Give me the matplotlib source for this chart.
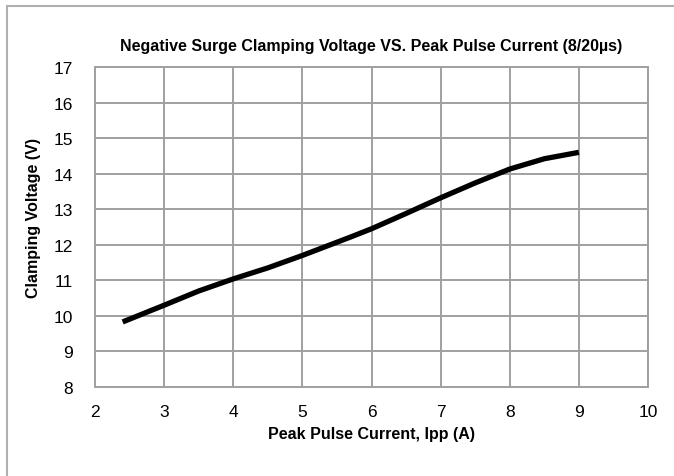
import matplotlib
matplotlib.use("Agg")
import matplotlib.pyplot as plt
from matplotlib.patches import Rectangle

# curve
ipp = [2.4, 3.0, 3.5, 4.0, 4.5, 5.0, 5.7, 6.0, 6.5, 7.0, 7.5, 8.0, 8.5, 9.0]
vc = [9.83, 10.30, 10.70, 11.04, 11.35, 11.70, 12.22, 12.45, 12.88, 13.32, 13.74, 14.13, 14.42, 14.60]

x_ticks = [2, 3, 4, 5, 6, 7, 8, 9, 10]
y_ticks = [8, 9, 10, 11, 12, 13, 14, 15, 16, 17]

title = "Negative Surge Clamping Voltage VS. Peak Pulse Current (8/20µs)"
xlabel = "Peak Pulse Current, Ipp (A)"
ylabel = "Clamping Voltage (V)"

bold_font = ["Liberation Sans", "DejaVu Sans"]
tick_font = ["Liberation Sans", "DejaVu Sans"]

fig = plt.figure(figsize=(6.74, 4.77), dpi=100)
ax = fig.add_axes([95 / 674, 1 - 388 / 477, 553 / 674, 320 / 477])

# outer chart border
fig.patches.append(Rectangle((7 / 674, -0.1), 1.2, 1 - 7 / 477 + 0.1,
                             transform=fig.transFigure, fill=False,
                             edgecolor="#b0b0b0", linewidth=1.5))

ax.plot(ipp, vc, color="black", linewidth=3.8, solid_capstyle="butt", zorder=3)

ax.set_xlim(2, 10)
ax.set_ylim(8, 17)
ax.set_xticks(x_ticks)
ax.set_yticks(y_ticks)
ax.grid(True, color="#a0a0a0", linewidth=1.4)
for s in ax.spines.values():
    s.set_color("#a0a0a0")
    s.set_linewidth(1.4)
ax.tick_params(length=0, pad=12, labelsize=12.5)
for lab in ax.get_xticklabels() + ax.get_yticklabels():
    lab.set_family(tick_font)
ax.tick_params(axis="y", pad=16)

ax.set_title(title, fontsize=11.5, fontweight="bold", family=bold_font, pad=12)
ax.set_xlabel(xlabel, fontsize=11.5, fontweight="bold", family=bold_font, labelpad=5)
ax.set_ylabel(ylabel, fontsize=11.5, fontweight="bold", family=bold_font)
ax.yaxis.set_label_coords(-0.098, 0.53)

fig.savefig("out.png", dpi=100)
